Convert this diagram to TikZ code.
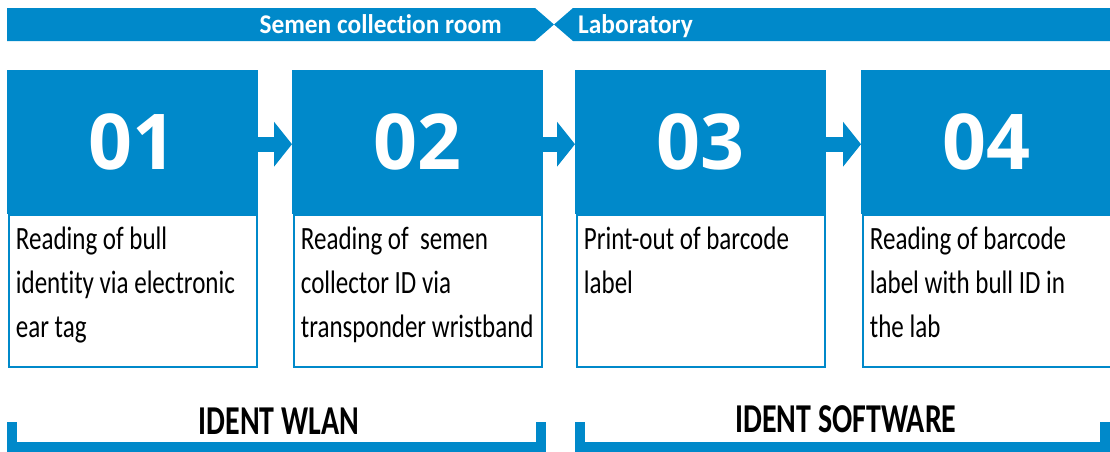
\documentclass[tikz,border=0pt]{standalone}
\usepackage{fontspec}
\setmainfont{Carlito}
\newfontfamily\bodyfont{Carlito}[FakeStretch=0.77, Ligatures=NoCommon]
\newfontfamily\bannerfont{Carlito}[FakeStretch=0.94, Ligatures=NoCommon]
\newfontfamily\identfont{Carlito}[FakeStretch=0.73]
\newfontfamily\numfont{Open Sans}
\usetikzlibrary{positioning, arrows.meta, calc}
\definecolor{identblue}{HTML}{0089CA}

\begin{document}
\begin{tikzpicture}[
    x=1pt, y=-1pt,
    head/.style={
        rectangle,
        fill=identblue,
        anchor=north west,
        minimum width=251pt,
        minimum height=144pt,
        inner sep=0pt,
        text=white,
        font=\numfont\bfseries\fontsize{77}{77}\selectfont
    },
    body/.style={
        rectangle,
        draw=identblue,
        line width=2pt,
        fill=white,
        minimum width=248pt,
        minimum height=152pt,
        inner sep=0pt
    },
    desc/.style={ % Step description
        anchor=north west,
        inner sep=0pt,
        align=left,
        font=\bodyfont\fontsize{32.5}{44}\selectfont
    },
    flow/.style={
        identblue,
        line width=15pt,
        -{Triangle[width=44pt, length=18pt]}
    },
    room/.style={
        text=white,
        inner sep=0pt,
        font=\bannerfont\bfseries\fontsize{27}{27}\selectfont
    },
    bracket/.style={
        draw=identblue,
        line width=9.5pt,
        miter limit=10
    },
    ident/.style={
        anchor=base,
        inner sep=0pt,
        font=\identfont\bfseries\fontsize{41}{41}\selectfont
    }
]
    \useasboundingbox (0,0) rectangle (1110,451);

    % Rooms
    \fill[identblue] (7,8) -- (535,8) -- (554,24.5) -- (535,41) -- (7,41) -- cycle;
    \fill[identblue] (573,8) -- (1110,8) -- (1110,41) -- (573,41) -- (554,24.5) -- cycle;
    \node[room, anchor=base east] (coll) at (502,33) {Semen collection room};
    \node[room, anchor=base west] (lab) at (578,33) {Laboratory};

    % Steps
    \node[head] (h1) at (7,70) {01};
    \node[head] (h2) at (292,70) {02};
    \node[head] (h3) at (575,70) {03};
    \node[head] (h4) at (861,70) {04};

    \node[body, below=0pt of h1] (b1) {};
    \node[body, below=0pt of h2] (b2) {};
    \node[body, below=0pt of h3] (b3) {};
    \node[body, below=0pt of h4] (b4) {};

    \node[desc] (t1) at ($(b1.north west) + (8,12)$) {Reading of bull\\identity via electronic\\ear tag};
    \node[desc] (t2) at ($(b2.north west) + (8,12)$) {Reading of~ semen\\collector ID via\\transponder wristband};
    \node[desc] (t3) at ($(b3.north west) + (8,12)$) {Print-out of barcode\\label};
    \node[desc] (t4) at ($(b4.north west) + (8,12)$) {Reading of barcode\\label with bull ID in\\the lab};

    \draw[flow] ([yshift=-2pt]h1.east) -- ([yshift=-2pt]h2.west);
    \draw[flow] ([yshift=-2pt]h2.east) -- ([yshift=-2pt]h3.west);
    \draw[flow] ([yshift=-2pt]h3.east) -- ([yshift=-2pt]h4.west);

    % Systems
    \draw[bracket] (12,422) |- (541,447) -- (541,422);
    \draw[bracket] (580,422) |- (1105,447) -- (1105,422);
    \node[ident] (wlan) at (279,434) {IDENT WLAN};
    \node[ident] (soft) at (846,432) {IDENT SOFTWARE};
\end{tikzpicture}
\end{document}
